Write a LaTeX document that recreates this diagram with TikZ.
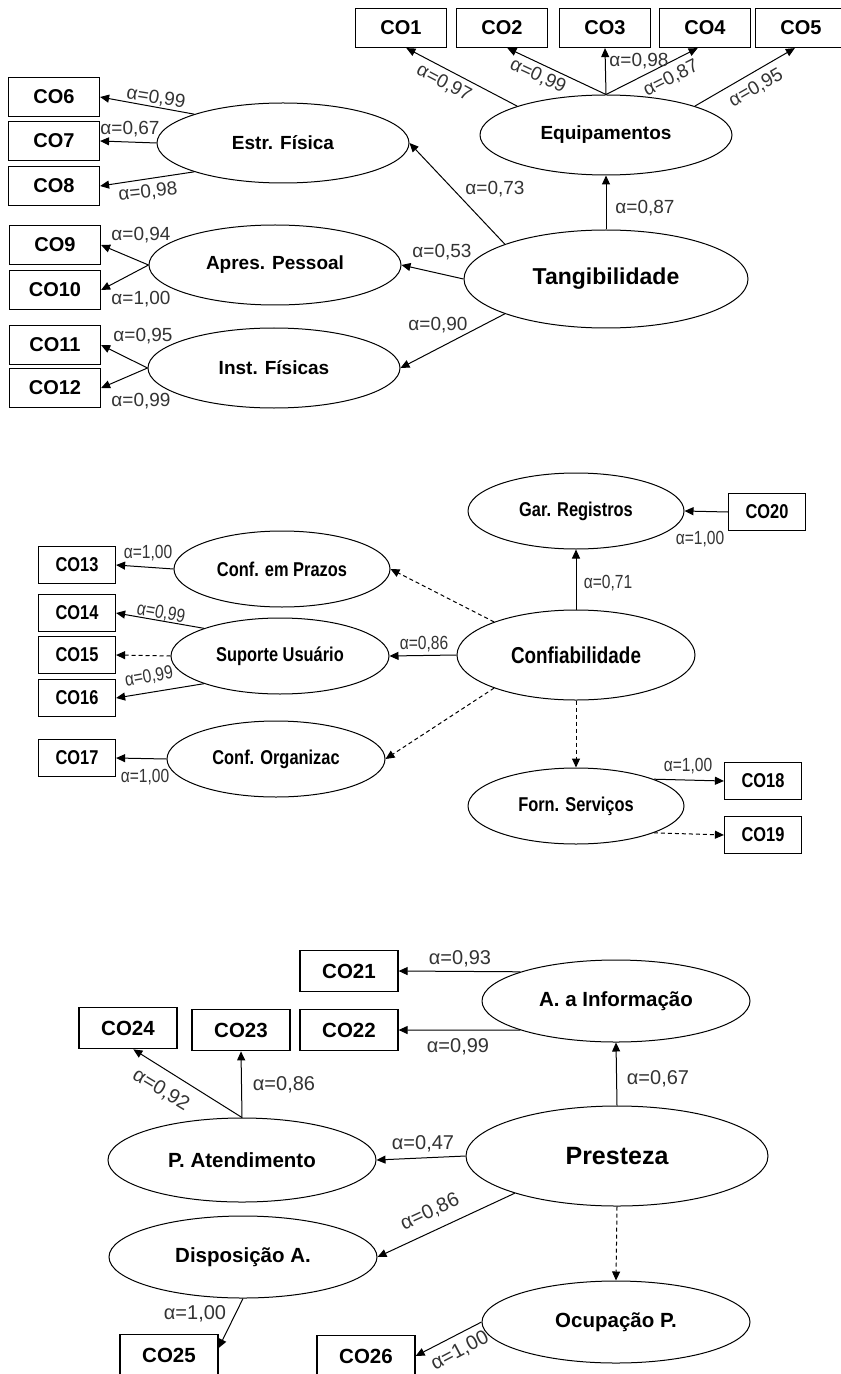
\documentclass[tikz,border=0pt]{standalone}
\usepackage{fontspec}
\setmainfont{Liberation Sans}
\newfontfamily\narrowfont[FakeStretch=0.82]{Liberation Sans}
\usetikzlibrary{shapes,arrows.meta}

\tikzset{
  item/.style={draw, line width=0.6pt, inner sep=0, minimum width=45.5pt, minimum height=19.5pt, font=\bfseries\fontsize{10}{12}\selectfont},
  fator/.style={draw, ellipse, line width=0.5pt, inner sep=0, font=\bfseries\fontsize{9.5}{11}\selectfont},
  lig/.style={-{Triangle[length=4.5pt,width=4pt]}, line width=0.5pt},
  tracejada/.style={lig, dash pattern=on 2pt off 1.5pt},
  carga/.style={inner sep=0, font=\fontsize{9.5}{11}\selectfont, text=black!80},
}

\begin{document}
\begin{tikzpicture}[x=0.5pt, y=-0.5pt]
    \useasboundingbox (0,0) rectangle (840,1374);

    % Tangibilidade
    \node[fator, minimum width=126pt, minimum height=40pt] (equip) at (606,135) {Equipamentos};
    \node[fator, minimum width=142pt, minimum height=49pt, font=\bfseries\fontsize{11.5}{13}\selectfont] (tang) at (606,279) {Tangibilidade};
    \node[fator, minimum width=126pt, minimum height=40pt] (estr) at (283,143) {Estr. Física};
    \node[fator, minimum width=126pt, minimum height=40pt] (apres) at (275,265) {Apres. Pessoal};
    \node[fator, minimum width=126pt, minimum height=40pt] (inst) at (274,368) {Inst. Físicas};

    \node[item] (co1) at (401,28) {CO1};
    \node[item] (co2) at (502,28) {CO2};
    \node[item] (co3) at (605,28) {CO3};
    \node[item] (co4) at (705,28) {CO4};
    \node[item] (co5) at (801,28) {CO5};
    \node[item] (co6) at (54,97) {CO6};
    \node[item] (co7) at (54,141) {CO7};
    \node[item] (co8) at (54,186) {CO8};
    \node[item] (co9) at (55,245) {CO9};
    \node[item] (co10) at (55,290) {CO10};
    \node[item] (co11) at (55,345) {CO11};
    \node[item] (co12) at (55,388) {CO12};

    \draw[lig] (equip.162) -- (co1.-75);
    \draw[lig] (equip.north) -- (co2.-75);
    \draw[lig] (equip.north) -- (co3.south);
    \draw[lig] (equip.north) -- (co4.-110);
    \draw[lig] (equip.18) -- (co5.-107);
    \draw[lig] (tang.north) -- (equip.south);
    \draw[lig] (tang.161) -- (estr.east);
    \draw[lig] (tang.west) -- (apres.east);
    \draw[lig] (tang.199) -- (inst.east);
    \draw[lig] (estr.162) -- (co6.east);
    \draw[lig] (estr.west) -- (co7.east);
    \draw[lig] (estr.198) -- (co8.east);
    \draw[lig] (apres.west) -- (co9.east);
    \draw[lig] (apres.west) -- (co10.east);
    \draw[lig] (inst.west) -- (co11.east);
    \draw[lig] (inst.west) -- (co12.east);

    \node[carga, rotate=-28] (a1) at (444,83) {α=0,97};
    \node[carga, rotate=-25] (a2) at (538,76) {α=0,99};
    \node[carga] (a3) at (639,61) {α=0,98};
    \node[carga, rotate=27] (a4) at (671,78) {α=0,87};
    \node[carga, rotate=30] (a5) at (756,88) {α=0,95};
    \node[carga] (aeq) at (645,208) {α=0,87};
    \node[carga] (aes) at (495,189) {α=0,73};
    \node[carga] (aap) at (442,252) {α=0,53};
    \node[carga] (ain) at (438,325) {α=0,90};
    \node[carga, rotate=-9] (a6) at (156,98) {α=0,99};
    \node[carga] (a7) at (130,129) {α=0,67};
    \node[carga, rotate=6] (a8) at (148,192) {α=0,98};
    \node[carga] (a9) at (141,235) {α=0,94};
    \node[carga] (a10) at (141,299) {α=1,00};
    \node[carga] (a11) at (143,336) {α=0,95};
    \node[carga] (a12) at (141,401) {α=0,99};

    % Confiabilidade
    \begin{scope}[item/.append style={minimum width=38.5pt, minimum height=18.75pt, font=\narrowfont\bfseries\fontsize{10}{12}\selectfont},
                  fator/.append style={font=\narrowfont\bfseries\fontsize{10}{12}\selectfont},
                  carga/.append style={font=\narrowfont\fontsize{9.5}{11}\selectfont}]
    \node[fator, minimum width=108pt, minimum height=38pt] (gar) at (576,511) {Gar. Registros};
    \node[fator, minimum width=119pt, minimum height=45pt, font=\narrowfont\bfseries\fontsize{11.5}{13}\selectfont] (conf) at (576,655) {Confiabilidade};
    \node[fator, minimum width=108pt, minimum height=38pt] (forn) at (576,806) {Forn. Serviços};
    \node[fator, minimum width=108pt, minimum height=38pt] (prazos) at (282,569) {Conf. em Prazos};
    \node[fator, minimum width=109pt, minimum height=38pt] (suporte) at (280,656) {Suporte Usuário};
    \node[fator, minimum width=109pt, minimum height=38pt] (organiz) at (276,759) {Conf. Organizac};

    \node[item] (co13) at (77,565) {CO13};
    \node[item] (co14) at (77,613) {CO14};
    \node[item] (co15) at (77,655) {CO15};
    \node[item] (co16) at (77,698) {CO16};
    \node[item] (co17) at (77,758) {CO17};
    \node[item] (co18) at (763,781) {CO18};
    \node[item] (co19) at (763,835) {CO19};
    \node[item] (co20) at (767,512) {CO20};

    \draw[lig] (prazos.west) -- (co13.east);
    \draw[lig] (suporte.160) -- (co14.east);
    \draw[tracejada] (suporte.west) -- (co15.east);
    \draw[lig] (suporte.200) -- (co16.east);
    \draw[lig] (organiz.west) -- (co17.east);
    \draw[lig] (conf.west) -- (suporte.east);
    \draw[tracejada] (conf.158) -- (prazos.east);
    \draw[tracejada] (conf.202) -- (organiz.east);
    \draw[lig] (conf.north) -- (gar.south);
    \draw[tracejada] (conf.south) -- (forn.north);
    \draw[lig] (co20.west) -- (gar.east);
    \draw[lig] (forn.19) -- (co18.west);
    \draw[tracejada] (forn.-19) -- (co19.west);

    \node[carga] (a13) at (148,553) {α=1,00};
    \node[carga, rotate=-10] (a14) at (161,613) {α=0,99};
    \node[carga, rotate=10] (a16) at (149,677) {α=0,99};
    \node[carga] (a17) at (145,777) {α=1,00};
    \node[carga] (asu) at (424,644) {α=0,86};
    \node[carga] (aga) at (608,583) {α=0,71};
    \node[carga] (a20) at (700,539) {α=1,00};
    \node[carga] (a18) at (688,766) {α=1,00};
    \end{scope}

    % Presteza
    \begin{scope}[item/.append style={minimum width=49pt, minimum height=20.75pt, font=\bfseries\fontsize{10.25}{12}\selectfont},
                  fator/.append style={font=\bfseries\fontsize{10.25}{12}\selectfont},
                  carga/.append style={font=\fontsize{10}{12}\selectfont}]
    \node[fator, minimum width=134pt, minimum height=41pt] (info) at (616,1001) {A. a Informação};
    \node[fator, minimum width=151pt, minimum height=50pt, font=\bfseries\fontsize{12.5}{14}\selectfont] (prest) at (617,1156) {Presteza};
    \node[fator, minimum width=134pt, minimum height=41pt] (ocup) at (616,1322) {Ocupação P.};
    \node[fator, minimum width=134pt, minimum height=42pt] (atend) at (242,1160) {P. Atendimento};
    \node[fator, minimum width=134pt, minimum height=41pt] (disp) at (243,1257) {Disposição A.};

    \node[item] (co21) at (349,971) {CO21};
    \node[item] (co22) at (349,1030) {CO22};
    \node[item] (co23) at (241,1030) {CO23};
    \node[item] (co24) at (128,1028) {CO24};
    \node[item] (co25) at (169,1355) {CO25};
    \node[item] (co26) at (366,1356) {CO26};

    \draw[lig] (info.163) -- (co21.east);
    \draw[lig] (info.197) -- (co22.east);
    \draw[lig] (prest.north) -- (info.south);
    \draw[lig] (prest.west) -- (atend.east);
    \draw[lig] (prest.200) -- (disp.east);
    \draw[tracejada] (prest.south) -- (ocup.north);
    \draw[lig] (ocup.west) -- (co26.east);
    \draw[lig] (atend.north) -- (co24.-76);
    \draw[lig] (atend.north) -- (co23.south);
    \draw[lig] (disp.south) -- (co25.8);

    \node[carga] (a21) at (460,959) {α=0,93};
    \node[carga] (a22) at (458,1047) {α=0,99};
    \node[carga] (ainf) at (658,1079) {α=0,67};
    \node[carga] (aat) at (423,1144) {α=0,47};
    \node[carga, rotate=25] (adi) at (430,1212) {α=0,86};
    \node[carga, rotate=28] (a26) at (460,1351) {α=1,00};
    \node[carga, rotate=-31] (a24) at (161,1090) {α=0,92};
    \node[carga] (a23) at (284,1085) {α=0,86};
    \node[carga] (a25) at (195,1314) {α=1,00};
    \end{scope}
\end{tikzpicture}
\end{document}
